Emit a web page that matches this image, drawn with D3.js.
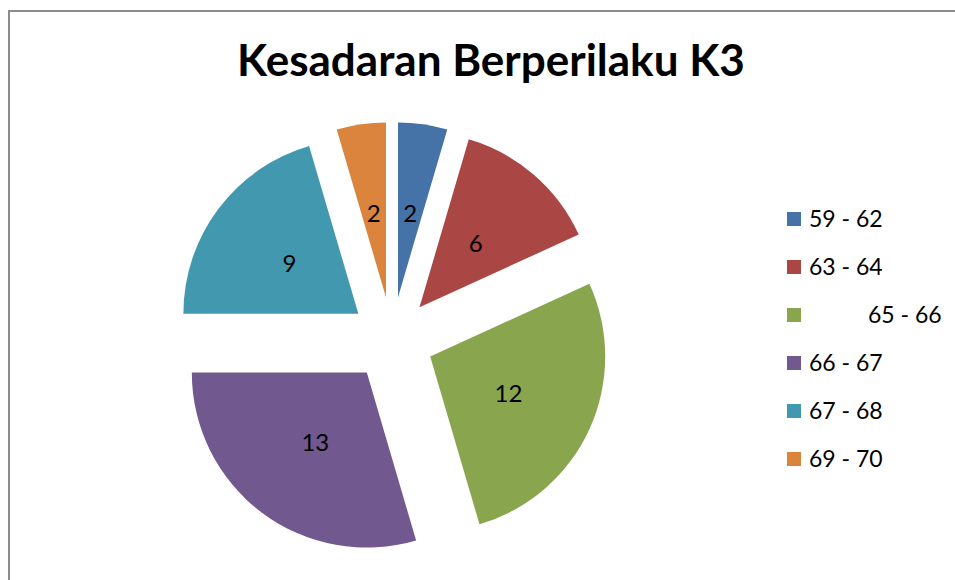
<!DOCTYPE html>
<html>
<head>
<meta charset="utf-8">
<script src="https://cdn.jsdelivr.net/npm/d3@7"></script>
<style>
  html, body { margin: 0; padding: 0; background: #fff; }
  svg { display: block; }
  text { font-family: Lato, "Open Sans", sans-serif; }
</style>
</head>
<body>
<svg id="chart" width="955" height="580"></svg>
<script>
const title = "Kesadaran Berperilaku K3";
const categories = ["59 - 62", "63 - 64", "          65 - 66", "66 - 67", "67 - 68", "69 - 70"];
const values = [2, 6, 12, 13, 9, 2];
const colors = ["#4572A7", "#AA4643", "#89A54E", "#71588F", "#4198AF", "#DB843D"];

const svg = d3.select("#chart");

// frame (cropped at right/bottom)
svg.append("path")
  .attr("d", "M9,585 L9,11 L960,11")
  .attr("fill", "none")
  .attr("stroke", "#8c8c8c")
  .attr("stroke-width", 2);

// title
const t = svg.append("text")
  .attr("x", 491).attr("y", 76)
  .attr("text-anchor", "middle")
  .attr("font-weight", "bold")
  .attr("font-size", 40)
  .attr("fill", "#000")
  .text(title);
const tw = t.node().getComputedTextLength();
t.attr("font-size", 40 * 508 / tw);

// pie
const cx = 392, cy = 339, r = 175, explode = 42;
const pie = d3.pie().sort(null).value(d => d)(values);
const arc = d3.arc().innerRadius(0).outerRadius(r);

const g = svg.append("g").attr("transform", `translate(${cx},${cy})`);
const slices = g.selectAll("g.slice").data(pie).enter().append("g")
  .attr("class", "slice")
  .attr("transform", d => {
    const a = (d.startAngle + d.endAngle) / 2;
    return `translate(${explode * Math.sin(a)},${-explode * Math.cos(a)})`;
  });
slices.append("path")
  .attr("d", arc)
  .attr("fill", (d, i) => colors[i]);
slices.append("text")
  .attr("x", d => 86 * Math.sin((d.startAngle + d.endAngle) / 2))
  .attr("y", d => -86 * Math.cos((d.startAngle + d.endAngle) / 2))
  .attr("dy", "0.4em")
  .attr("text-anchor", "middle")
  .attr("font-size", 24)
  .attr("fill", "#000")
  .text(d => d.data);

// legend
const legend = svg.append("g");
const items = legend.selectAll("g").data(categories).enter().append("g")
  .attr("transform", (d, i) => `translate(787,${219 + i * 48})`);
items.append("rect")
  .attr("x", 0).attr("y", -7)
  .attr("width", 14).attr("height", 14)
  .attr("fill", (d, i) => colors[i]);
items.append("text")
  .attr("x", 22).attr("y", 0)
  .attr("dy", "0.35em")
  .attr("font-size", 23)
  .attr("fill", "#000")
  .style("white-space", "pre")
  .text(d => d);
</script>
</body>
</html>
